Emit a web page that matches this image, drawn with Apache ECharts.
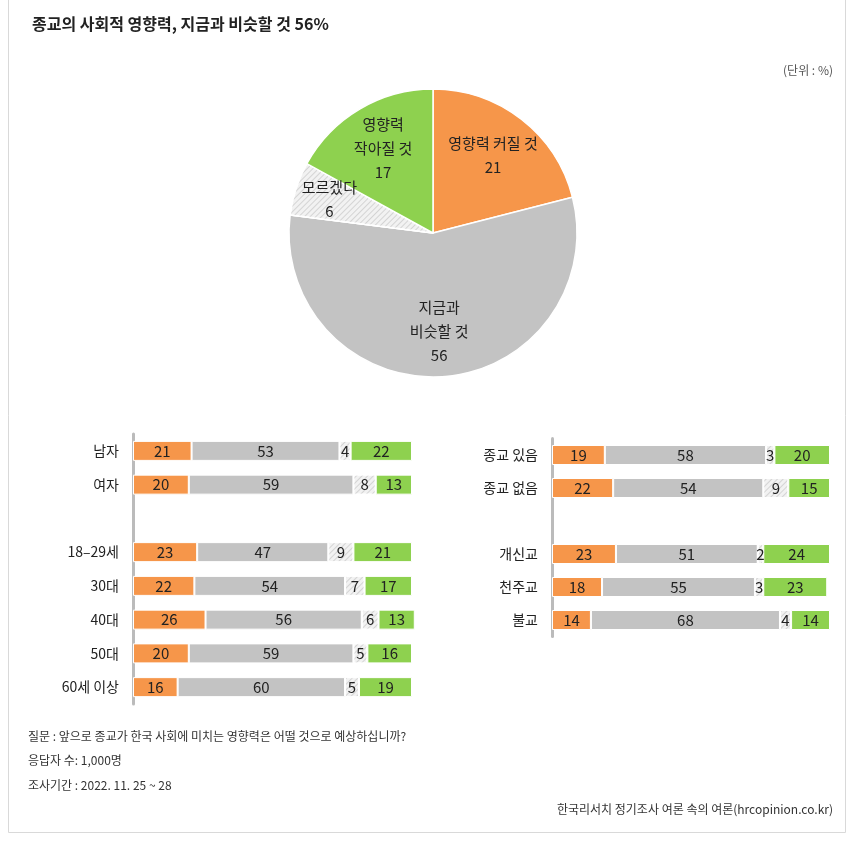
<!DOCTYPE html>
<html><head><meta charset="utf-8">
<script src="https://cdn.jsdelivr.net/npm/echarts@6/dist/echarts.min.js"></script>
<style>html,body{margin:0;padding:0;background:#fff}#c{width:856px;height:842px}</style>
</head><body><div id="c"></div>
<script>
// ---- data ----
const pieNames = ['영향력 커질 것', '지금과\n비슷할 것', '모르겠다', '영향력\n작아질 것'];
const pieValues = [21, 56, 6, 17];

const leftCategories = ['남자', '여자', '', '18–29세', '30대', '40대', '50대', '60세 이상'];
const leftBigger = [21, 20, null, 23, 22, 26, 20, 16];
const leftSame = [53, 59, null, 47, 54, 56, 59, 60];
const leftDontKnow = [4, 8, null, 9, 7, 6, 5, 5];
const leftSmaller = [22, 13, null, 21, 17, 13, 16, 19];

const rightCategories = ['종교 있음', '종교 없음', '', '개신교', '천주교', '불교'];
const rightBigger = [19, 22, null, 23, 18, 14];
const rightSame = [58, 54, null, 51, 55, 68];
const rightDontKnow = [3, 9, null, 2, 3, 4];
const rightSmaller = [20, 15, null, 24, 23, 14];

// ---- styles ----
const FONT = "'Noto Sans CJK KR', 'Noto Sans', sans-serif";
const ORANGE = '#F6964A', GRAY = '#C3C3C3', GREEN = '#8ED14F', LIGHT = '#F2F2F2';
const decal = { symbol: 'rect', symbolSize: 1, dashArrayX: [1, 0], dashArrayY: [1, 3], rotation: -Math.PI / 4, color: '#D4D4D4' };
const pieColors = [ORANGE, GRAY, LIGHT, GREEN];

const chart = echarts.init(document.getElementById('c'), null, { renderer: 'canvas' });

function barSeries(name, data, color, gi, hatched) {
  return {
    type: 'bar', name, stack: 'g' + gi, xAxisIndex: gi, yAxisIndex: gi, data,
    barWidth: 20, clip: false,
    itemStyle: Object.assign({ color, borderColor: '#fff', borderWidth: 1 }, hatched ? { decal } : {}),
    label: { show: true, position: 'inside', color: '#222', fontSize: 15, fontFamily: FONT,
      formatter: p => (p.value == null ? '' : p.value) },
    labelLayout: { hideOverlap: false },
    emphasis: { disabled: true }, silent: true
  };
}

// transparent pie used only to place the slice labels at a chosen radius
function labelPie(outerR, showIdx) {
  return {
    type: 'pie', center: [433, 233], radius: [0, outerR], startAngle: 90, clockwise: true,
    silent: true, z: 5, avoidLabelOverlap: false, minShowLabelAngle: 0,
    labelLayout: { hideOverlap: false },
    itemStyle: { color: 'rgba(0,0,0,0)', borderWidth: 0 },
    label: { show: true, position: 'inside', color: '#222', fontSize: 15, lineHeight: 24,
      fontFamily: FONT, formatter: p => p.name + '\n' + p.value },
    labelLine: { show: false },
    data: pieValues.map((v, i) => ({ value: v, name: pieNames[i],
      itemStyle: { color: 'rgba(0,0,0,0)' }, label: { show: showIdx.indexOf(i) >= 0 } }))
  };
}

const option = {
  animation: false,
  textStyle: { fontFamily: FONT },
  title: { text: '종교의 사회적 영향력, 지금과 비슷할 것 56%', left: 27, top: 11,
    textStyle: { fontSize: 16, fontWeight: 'bold', color: '#222', fontFamily: FONT } },
  grid: [
    { left: 133, top: 434, width: 279, height: 270 },
    { left: 552, top: 438.5, width: 278, height: 198 }
  ],
  xAxis: [
    { gridIndex: 0, type: 'value', min: 0, max: 100, show: false },
    { gridIndex: 1, type: 'value', min: 0, max: 100, show: false }
  ],
  yAxis: [
    { gridIndex: 0, type: 'category', data: leftCategories, inverse: true, offset: 2,
      axisLine: { lineStyle: { color: '#BBBBBB', width: 3 } }, axisTick: { show: false },
      axisLabel: { margin: 12, fontSize: 14, color: '#222', fontFamily: FONT } },
    { gridIndex: 1, type: 'category', data: rightCategories, inverse: true, offset: 2,
      axisLine: { lineStyle: { color: '#BBBBBB', width: 3 } }, axisTick: { show: false },
      axisLabel: { margin: 12, fontSize: 14, color: '#222', fontFamily: FONT } }
  ],
  series: [
    {
      type: 'pie', center: [433, 233], radius: [0, 144], startAngle: 90, clockwise: true,
      silent: true, label: { show: false }, labelLine: { show: false },
      itemStyle: { borderColor: '#fff', borderWidth: 1.5 },
      data: pieValues.map((v, i) => ({ value: v, name: pieNames[i],
        itemStyle: Object.assign({ color: pieColors[i] }, i === 2 ? { decal } : {}) }))
    },
    labelPie(190, [0, 1, 3]),
    labelPie(212, [2]),
    barSeries('커질 것', leftBigger, ORANGE, 0, false),
    barSeries('비슷할 것', leftSame, GRAY, 0, false),
    barSeries('모르겠다', leftDontKnow, LIGHT, 0, true),
    barSeries('작아질 것', leftSmaller, GREEN, 0, false),
    barSeries('커질 것', rightBigger, ORANGE, 1, false),
    barSeries('비슷할 것', rightSame, GRAY, 1, false),
    barSeries('모르겠다', rightDontKnow, LIGHT, 1, true),
    barSeries('작아질 것', rightSmaller, GREEN, 1, false)
  ],
  graphic: [
    { type: 'rect', shape: { x: 8.5, y: -5, width: 837, height: 837.5 }, silent: true,
      style: { fill: 'none', stroke: '#D9D9D9', lineWidth: 1 } },
    { type: 'text', right: 23, top: 64, silent: true,
      style: { text: '(단위 : %)', fill: '#555', font: '12px ' + FONT } },
    { type: 'text', left: 28, top: 730, silent: true,
      style: { text: '질문 : 앞으로 종교가 한국 사회에 미치는 영향력은 어떨 것으로 예상하십니까?', fill: '#333', font: '12px ' + FONT } },
    { type: 'text', left: 28, top: 754, silent: true,
      style: { text: '응답자 수: 1,000명', fill: '#333', font: '12px ' + FONT } },
    { type: 'text', left: 28, top: 779, silent: true,
      style: { text: '조사기간 : 2022. 11. 25 ~ 28', fill: '#333', font: '12px ' + FONT } },
    { type: 'text', right: 23, top: 803, silent: true,
      style: { text: '한국리서치 정기조사 여론 속의 여론(hrcopinion.co.kr)', fill: '#333', font: '12px ' + FONT } }
  ]
};
chart.setOption(option);
</script>
</body></html>
